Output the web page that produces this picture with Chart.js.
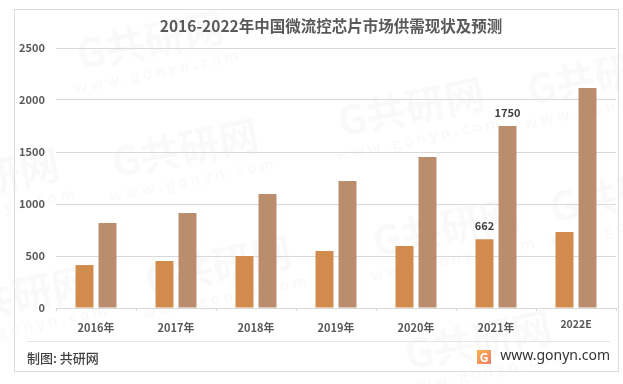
<!DOCTYPE html>
<html>
<head>
<meta charset="utf-8">
<style>
  body { margin: 0; background: #fff; }
  #grafico { display: block; }
</style>
<script src="https://cdn.jsdelivr.net/npm/chart.js@4"></script>
</head>
<body>
<canvas id="grafico" width="623" height="384"></canvas>
<script>
const categories = ["2016年", "2017年", "2018年", "2019年", "2020年", "2021年", "2022E"];
const supply = [413, 452, 500, 548, 596, 662, 730];
const demand = [817, 913, 1096, 1221, 1452, 1750, 2115];
const labelled = [5];  // only 2021 carries value labels

const fontFamily = '"Noto Sans CJK SC", "Noto Sans", sans-serif';
const textColor = "#595959";
const lineColor = "#d9d9d9";

// watermark centres, purely decoration
const watermarks = [[152, 50], [187, 158], [413, 117], [602, 85], [220, 275], [20, 305], [-12, 188], [448, 237], [480, 350], [625, 203]];

function drawWatermark(ctx, x, y) {
    ctx.save();
    ctx.translate(x, y);
    ctx.rotate(-0.2);
    ctx.textAlign = "center";
    ctx.textBaseline = "middle";
    ctx.fillStyle = "rgba(0, 0, 0, 0.025)";
    ctx.font = "bold 40px " + fontFamily;
    ctx.fillText("G共研网", 0, -10);
    ctx.font = "bold 15px " + fontFamily;
    ctx.fillText("w w w . g o n y n . c o m", 0, 22);
    ctx.restore();
}

const decoration = {
    id: "decoration",
    beforeDraw(chart) {
        const ctx = chart.ctx;
        watermarks.forEach(p => drawWatermark(ctx, p[0], p[1]));

        ctx.save();
        ctx.strokeStyle = "#dcdcdc";
        ctx.lineWidth = 1;
        ctx.strokeRect(14.5, 9.5, 604, 362);
        ctx.strokeStyle = "#e6e6e6";
        ctx.beginPath();
        ctx.moveTo(27, 341.5);
        ctx.lineTo(610, 341.5);
        ctx.stroke();
        ctx.restore();

        // the original title is not centred on the canvas
        chart.titleBlock.left = 46;

        // 2022E sits a little higher than the other labels in the original
        const items = chart.scales.x.getLabelItems();
        if (items[6] && !items[6].moved) {
            items[6].options.translation[1] -= 3;
            items[6].moved = true;
        }
    },
    afterDraw(chart) {
        const ctx = chart.ctx;
        ctx.save();

        // value labels
        ctx.fillStyle = "#404040";
        ctx.font = "bold 11px " + fontFamily;
        ctx.textAlign = "center";
        ctx.textBaseline = "bottom";
        chart.data.datasets.forEach((ds, i) => {
            const bars = chart.getDatasetMeta(i).data;
            labelled.forEach(k => {
                ctx.fillText(ds.data[k], bars[k].x, bars[k].y - 8);
            });
        });

        // footer
        ctx.textBaseline = "middle";
        ctx.textAlign = "left";
        ctx.fillStyle = "#404040";
        ctx.font = "500 13px " + fontFamily;
        ctx.fillText("制图: 共研网", 27, 358);

        const grad = ctx.createLinearGradient(477, 350, 491, 364);
        grad.addColorStop(0, "#f9b24a");
        grad.addColorStop(1, "#ee7d6a");
        ctx.fillStyle = grad;
        ctx.fillRect(477, 350, 14, 14);
        ctx.fillStyle = "#fff";
        ctx.font = "bold 12px " + fontFamily;
        ctx.textAlign = "center";
        ctx.fillText("G", 484, 357);

        ctx.fillStyle = "#333333";
        ctx.font = '14px "Noto Sans", sans-serif';
        ctx.textAlign = "right";
        ctx.fillText("www.gonyn.com", 610, 356);
        ctx.restore();
    }
};

new Chart(document.getElementById("grafico").getContext("2d"), {
    type: "bar",
    data: {
        labels: categories,
        datasets: [
            { label: "供给", data: supply, backgroundColor: "#d18b4d" },
            { label: "需求", data: demand, backgroundColor: "#ba8d6c" }
        ]
    },
    options: {
        responsive: false,
        animation: false,
        categoryPercentage: 0.575,
        barPercentage: 0.78,
        layout: { padding: { left: 0, right: 7, top: 0, bottom: 0 } },
        plugins: {
            legend: { display: false },
            tooltip: { enabled: false },
            title: {
                display: true,
                text: "2016-2022年中国微流控芯片市场供需现状及预测",
                color: textColor,
                font: { family: fontFamily, size: 15.5, weight: "bold", lineHeight: 1.2 },
                padding: { top: 17, bottom: 12.4 }
            }
        },
        scales: {
            x: {
                grid: { drawOnChartArea: false, tickLength: 3, color: lineColor, offset: true },
                border: { color: lineColor },
                ticks: {
                    color: textColor,
                    padding: 10,
                    maxRotation: 0,
                    autoSkip: false,
                    font: c => ({
                        family: fontFamily,
                        weight: "bold",
                        size: c.index === 6 ? 10.5 : 11
                    })
                },
                afterFit(scale) { scale.height = 76; }
            },
            y: {
                min: 0,
                max: 2500,
                grid: { color: lineColor, drawTicks: false },
                border: { display: false },
                ticks: {
                    stepSize: 500,
                    color: textColor,
                    padding: 11,
                    callback: v => String(v),
                    font: { family: fontFamily, size: 11, weight: "bold" }
                },
                afterFit(scale) { scale.width = 56; }
            }
        }
    },
    plugins: [decoration]
});
</script>
</body>
</html>
